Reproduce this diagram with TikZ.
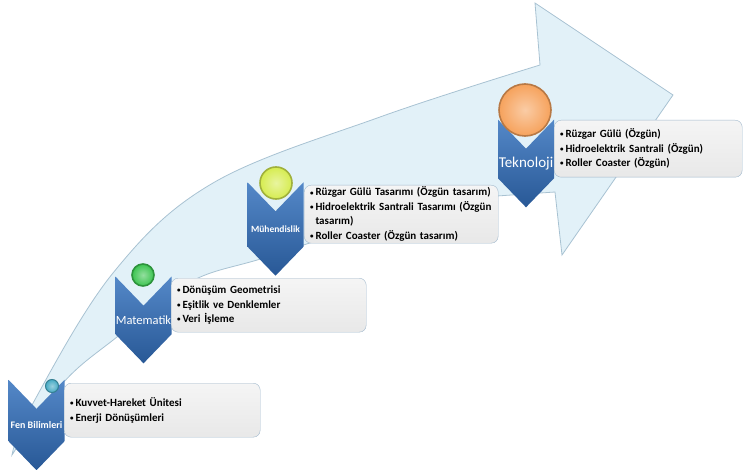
\documentclass[tikz,border=0pt]{standalone}
\usepackage{fontspec}
\setmainfont{Carlito}
\usepackage{xcolor}
\usepackage{tikz}
\usetikzlibrary{shapes.symbols,positioning}

\definecolor{arrowfill}{RGB}{226,241,248}
\definecolor{arrowline}{RGB}{168,194,210}
\definecolor{chevtop}{RGB}{84,136,200}
\definecolor{chevbottom}{RGB}{40,88,150}
\definecolor{boxline}{RGB}{160,184,204}
\definecolor{teal}{RGB}{70,170,196}
\definecolor{grn}{RGB}{60,196,80}
\definecolor{lime}{RGB}{214,236,80}
\definecolor{orng}{RGB}{246,162,92}

\newcommand{\dotitem}{{\fontsize{7}{8}\selectfont\raisebox{.25ex}{•}}\,}

\begin{document}
\begin{tikzpicture}
    [x=1pt, y=-1pt,
    every node/.style={align=center, inner sep=0pt},
    stage/.style={signal, signal to=south, signal from=north,
        signal pointer angle=88, minimum width=56pt, minimum height=86pt,
        top color=chevtop, bottom color=chevbottom, text=white},
    topic/.style={rectangle, rounded corners=7pt, draw=boxline,
        top color=white!96!black, bottom color=white!91!black,
        align=left, inner xsep=6pt, anchor=north west,
        font=\bfseries\fontsize{11}{14.5}\selectfont},
    ball/.style={circle, draw=#1!75!black, line width=1.6pt,
        inner color=#1!55!white, outer color=#1}]

    \useasboundingbox (0,0) rectangle (743,470);

    \filldraw[fill=arrowfill, draw=arrowline, line width=0.8pt]
        plot[smooth, tension=0.6] coordinates {(12,455) (32,405) (113,273) (213,183) (380,117) (540,65)}
        -- (535,3) -- (673,95) -- (562,255) -- (555,192)
        -- plot[smooth, tension=0.6] coordinates {(497,196) (400,215) (267,257) (190,282) (117,337) (63,383) (12,455)}
        -- cycle;

    \node[stage, font=\bfseries\fontsize{10}{12}\selectfont] (fen) at (36.5,425) {Fen Bilimleri};
    \node[stage, font=\fontsize{12.5}{14}\selectfont] (mat) at (143.5,320) {Matematik};
    \node[stage, font=\bfseries\fontsize{9.5}{11}\selectfont] (muh) at (275.5,229) {Mühendislik};
    \node[stage, font=\fontsize{15}{17}\selectfont] (tek) at (526,163.5) {Teknoloji};

    \node[topic, text width=184pt, minimum height=54pt] (fenbox) at (64,383)
        {\dotitem Kuvvet-Hareket Ünitesi\\\dotitem Enerji Dönüşümleri};
    \node[topic, text width=183pt, minimum height=54pt] (matbox) at (171,278)
        {\dotitem Dönüşüm Geometrisi\\\dotitem Eşitlik ve Denklemler\\\dotitem Veri İşleme};
    \node[topic, text width=182pt, minimum height=58pt] (muhbox) at (304,185)
        {\dotitem Rüzgar Gülü Tasarımı (Özgün tasarım)\\\dotitem Hidroelektrik Santrali Tasarımı (Özgün\\\phantom{\dotitem}tasarım)\\\dotitem Roller Coaster (Özgün tasarım)};
    \node[topic, text width=176pt, minimum height=57pt] (tekbox) at (554,120)
        {\dotitem Rüzgar Gülü (Özgün)\\\dotitem Hidroelektrik Santrali (Özgün)\\\dotitem Roller Coaster (Özgün)};

    \node[ball=teal, minimum size=13pt, line width=1pt] (fenball) at (52,386) {};
    \node[ball=grn, minimum size=22pt] (matball) at (143,275) {};
    \node[ball=lime, minimum size=32pt] (muhball) at (276,183) {};
    \node[ball=orng, minimum size=52pt] (tekball) at (525,110) {};
\end{tikzpicture}
\end{document}
